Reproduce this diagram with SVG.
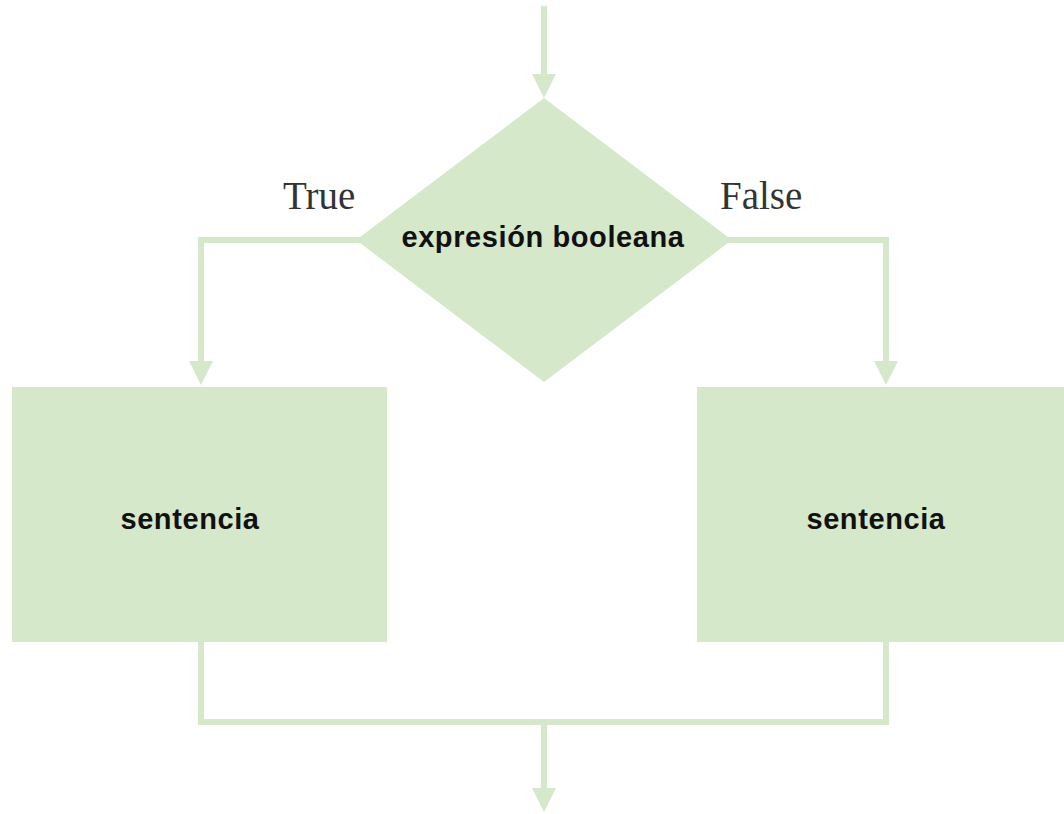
<svg xmlns="http://www.w3.org/2000/svg" width="1064" height="814" viewBox="0 0 1064 814">
  <style>
    .shape { fill: #d5e8ca; }
    .link { fill: none; stroke: #d5e8ca; stroke-width: 6; }
    .head { fill: #d5e8ca; }
    .label { font-family: "Liberation Sans", Arial, sans-serif; font-weight: bold; font-size: 29px; letter-spacing: 0.6px; fill: #111; text-anchor: middle; }
    .branch { font-family: "Liberation Serif", "Times New Roman", serif; font-size: 39px; fill: #333; }
  </style>
  <rect width="1064" height="814" fill="#ffffff"/>

  <g id="connectors">
    <!-- entry -->
    <path class="link" d="M544,6 V78"/>
    <polygon class="head" points="532,74 556,74 544,98"/>
    <!-- true branch -->
    <path class="link" d="M360,240 H201 V365"/>
    <polygon class="head" points="189,361 213,361 201,385"/>
    <!-- false branch -->
    <path class="link" d="M728,240 H886 V365"/>
    <polygon class="head" points="874,361 898,361 886,385"/>
    <!-- merge -->
    <path class="link" d="M201,642 V722 H886 V642"/>
    <path class="link" d="M544,722 V792"/>
    <polygon class="head" points="532,788 556,788 544,812"/>
  </g>

  <g id="decision">
    <polygon class="shape" points="544,98 732,240 544,382 356,240"/>
    <text class="label" x="543" y="247">expresión booleana</text>
  </g>

  <g id="true-label">
    <text class="branch" x="283" y="209">True</text>
  </g>
  <g id="false-label">
    <text class="branch" x="720" y="209">False</text>
  </g>

  <g id="statement-true">
    <rect class="shape" x="12" y="387" width="375" height="255"/>
    <text class="label" x="190" y="529">sentencia</text>
  </g>

  <g id="statement-false">
    <rect class="shape" x="697" y="387" width="367" height="255"/>
    <text class="label" x="876" y="529">sentencia</text>
  </g>
</svg>
